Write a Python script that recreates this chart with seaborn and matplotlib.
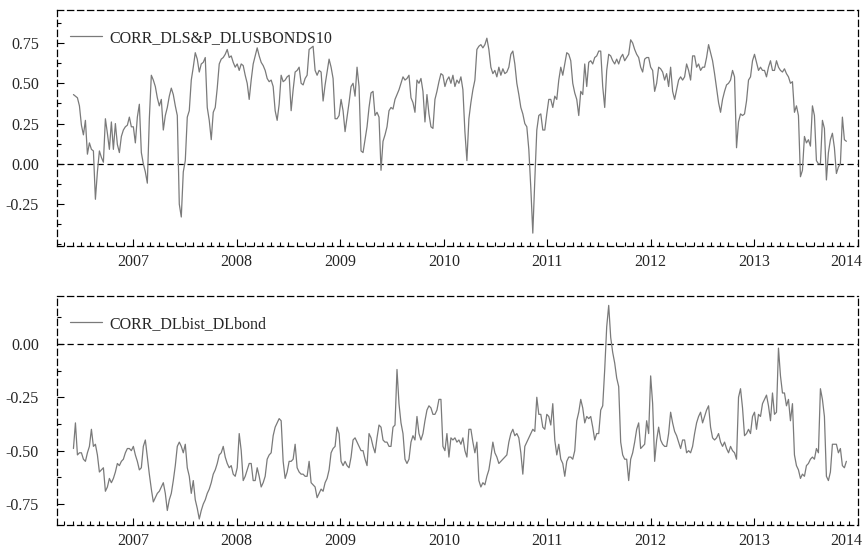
import matplotlib
matplotlib.use("Agg")
import matplotlib.pyplot as plt
import matplotlib.dates as mdates
import matplotlib.transforms as mtransforms
from matplotlib.ticker import MultipleLocator, FormatStrFormatter
import pandas as pd
import seaborn as sns

series_labels = ["CORR_DLS&P_DLUSBONDS10", "CORR_DLbist_DLbond"]
start_date = "2006-06-04"
end_date = "2013-11-22"
year_labels = ["2007", "2008", "2009", "2010", "2011", "2012", "2013", "2014"]

corr_sp_us10 = [
    0.43, 0.42, 0.41, 0.36, 0.24, 0.18, 0.27, 0.06, 0.13, 0.09,
    0.08, -0.22, -0.05, 0.08, 0.04, 0.01, 0.28, 0.19, 0.09, 0.26,
    0.09, 0.25, 0.12, 0.07, 0.17, 0.21, 0.23, 0.24, 0.29, 0.23,
    0.23, 0.13, 0.29, 0.37, 0.07, 0.00, -0.05, -0.12, 0.28, 0.55,
    0.52, 0.48, 0.41, 0.36, 0.40, 0.21, 0.30, 0.35, 0.42, 0.47,
    0.43, 0.36, 0.30, -0.25, -0.33, -0.05, 0.02, 0.29, 0.33, 0.52,
    0.60, 0.69, 0.65, 0.57, 0.62, 0.63, 0.66, 0.35, 0.27, 0.15,
    0.32, 0.35, 0.47, 0.62, 0.65, 0.66, 0.68, 0.71, 0.66, 0.67,
    0.63, 0.60, 0.62, 0.58, 0.62, 0.61, 0.55, 0.50, 0.40, 0.52,
    0.62, 0.67, 0.72, 0.67, 0.63, 0.61, 0.58, 0.53, 0.51, 0.52,
    0.48, 0.33, 0.27, 0.37, 0.55, 0.51, 0.52, 0.54, 0.55, 0.33,
    0.46, 0.57, 0.58, 0.60,
    0.50, 0.49, 0.53, 0.55, 0.71, 0.72, 0.73, 0.58, 0.55, 0.58,
    0.57, 0.39, 0.49, 0.57, 0.65, 0.60, 0.53, 0.28, 0.28, 0.30,
    0.40, 0.33, 0.20, 0.29, 0.38, 0.48, 0.50, 0.42, 0.60, 0.48,
    0.08, 0.07, 0.15, 0.23, 0.35, 0.44, 0.45, 0.30, 0.32, 0.29,
    -0.04, 0.14, 0.18, 0.23, 0.33, 0.35, 0.34, 0.40, 0.43, 0.46,
    0.50, 0.54, 0.52, 0.53, 0.55, 0.41, 0.38, 0.32, 0.52, 0.50,
    0.53, 0.45, 0.26, 0.43, 0.31, 0.23, 0.22, 0.40, 0.45, 0.51,
    0.56, 0.55, 0.48, 0.52, 0.54, 0.50, 0.55, 0.48, 0.52, 0.50,
    0.54, 0.46, 0.20, 0.02, 0.28, 0.38, 0.46, 0.52, 0.71, 0.73,
    0.74, 0.72, 0.74, 0.78, 0.71, 0.60, 0.56, 0.58, 0.54, 0.60,
    0.55, 0.59, 0.56, 0.57, 0.60, 0.68, 0.70, 0.62, 0.50, 0.43,
    0.35, 0.31, 0.25, 0.23, 0.09, -0.15, -0.43, -0.10, 0.21, 0.30,
    0.31, 0.21, 0.21, 0.31, 0.40, 0.40, 0.35, 0.42, 0.40, 0.52,
    0.60, 0.55, 0.62, 0.69, 0.68, 0.64, 0.50, 0.44, 0.40, 0.30,
    0.45, 0.43, 0.62, 0.48, 0.63, 0.64, 0.62, 0.66, 0.67, 0.70,
    0.70, 0.48, 0.35, 0.58, 0.68, 0.67, 0.64, 0.62, 0.65, 0.62,
    0.66, 0.68, 0.64, 0.66, 0.68, 0.77, 0.75, 0.71, 0.68, 0.66,
    0.60, 0.57, 0.65, 0.66, 0.66, 0.60, 0.58, 0.45, 0.50, 0.60,
    0.59, 0.57, 0.52, 0.56, 0.48, 0.60, 0.45, 0.40, 0.46, 0.52,
    0.54, 0.52, 0.54, 0.62, 0.58, 0.52, 0.67, 0.67, 0.60, 0.62,
    0.58, 0.60, 0.60, 0.66, 0.74, 0.69, 0.64, 0.56, 0.47, 0.38,
    0.32, 0.40, 0.45, 0.49, 0.50, 0.52, 0.58, 0.54, 0.10, 0.26,
    0.31, 0.30, 0.31, 0.39, 0.52, 0.54, 0.64, 0.68, 0.63, 0.58,
    0.60, 0.58, 0.58, 0.54, 0.60, 0.64, 0.58, 0.58, 0.64, 0.60,
    0.58, 0.57, 0.59, 0.56, 0.54, 0.50, 0.51, 0.32, 0.36, 0.30,
    -0.08, -0.04, 0.17, 0.13, 0.15, 0.11, 0.36, 0.30, 0.02, 0.00,
    0.00, 0.27, 0.22, -0.10, 0.07, 0.15, 0.19, 0.10, -0.06, -0.02,
    0.00, 0.29, 0.15, 0.14,
]

corr_bist_bond = [
    -0.49, -0.37, -0.52, -0.51, -0.51, -0.54, -0.55, -0.51, -0.48, -0.40,
    -0.48, -0.47, -0.52, -0.60, -0.59, -0.58, -0.69, -0.67, -0.63, -0.65,
    -0.63, -0.60, -0.56, -0.57, -0.55, -0.54, -0.51, -0.49, -0.49, -0.50,
    -0.48, -0.52, -0.55, -0.59, -0.58, -0.48, -0.45, -0.53, -0.61, -0.68,
    -0.74, -0.72, -0.70, -0.69, -0.67, -0.65, -0.70, -0.78, -0.73, -0.70,
    -0.64, -0.57, -0.48, -0.46, -0.48, -0.51, -0.47, -0.58, -0.62, -0.70,
    -0.64, -0.73, -0.77, -0.82, -0.78, -0.75, -0.73, -0.70, -0.68, -0.65,
    -0.61, -0.59, -0.56, -0.52, -0.51, -0.48, -0.53, -0.56, -0.58, -0.57,
    -0.61, -0.62, -0.58, -0.42, -0.50, -0.64, -0.62, -0.59, -0.56, -0.56,
    -0.64, -0.64, -0.58, -0.62, -0.67, -0.65, -0.62, -0.54, -0.52, -0.51,
    -0.43, -0.39, -0.37, -0.35, -0.36, -0.55, -0.63, -0.60, -0.55, -0.55,
    -0.54, -0.47, -0.58, -0.60,
    -0.61, -0.61, -0.62, -0.62, -0.55, -0.65, -0.66, -0.67, -0.72, -0.70,
    -0.68, -0.69, -0.65, -0.63, -0.59, -0.51, -0.49, -0.48, -0.39, -0.42,
    -0.55, -0.57, -0.55, -0.57, -0.58, -0.53, -0.45, -0.44, -0.46, -0.48,
    -0.50, -0.50, -0.54, -0.57, -0.42, -0.44, -0.48, -0.51, -0.44, -0.38,
    -0.39, -0.45, -0.46, -0.46, -0.48, -0.48, -0.39, -0.38, -0.12, -0.28,
    -0.37, -0.42, -0.54, -0.56, -0.54, -0.46, -0.43, -0.45, -0.34, -0.42,
    -0.45, -0.42, -0.36, -0.31, -0.29, -0.30, -0.33, -0.33, -0.31, -0.26,
    -0.26, -0.48, -0.50, -0.42, -0.53, -0.44, -0.45, -0.44, -0.46, -0.45,
    -0.47, -0.44, -0.50, -0.53, -0.40, -0.40, -0.46, -0.51, -0.46, -0.64,
    -0.67, -0.65, -0.66, -0.62, -0.59, -0.53, -0.46, -0.51, -0.53, -0.56,
    -0.55, -0.54, -0.53, -0.52, -0.46, -0.42, -0.40, -0.43, -0.42, -0.44,
    -0.51, -0.61, -0.48, -0.46, -0.44, -0.42, -0.40, -0.41, -0.25, -0.33,
    -0.33, -0.39, -0.40, -0.33, -0.34, -0.38, -0.28, -0.45, -0.52, -0.47,
    -0.54, -0.56, -0.62, -0.55, -0.53, -0.53, -0.54, -0.50, -0.36, -0.32,
    -0.26, -0.30, -0.37, -0.34, -0.35, -0.34, -0.39, -0.45, -0.42, -0.42,
    -0.31, -0.29, -0.12, 0.08, 0.18, 0.03, -0.04, -0.09, -0.16, -0.20,
    -0.46, -0.52, -0.54, -0.54, -0.64, -0.54, -0.51, -0.46, -0.40, -0.37,
    -0.49, -0.48, -0.47, -0.36, -0.42, -0.15, -0.28, -0.55, -0.45, -0.39,
    -0.45, -0.47, -0.48, -0.48, -0.42, -0.32, -0.37, -0.41, -0.43, -0.46,
    -0.49, -0.45, -0.45, -0.51, -0.50, -0.51, -0.48, -0.42, -0.37, -0.34,
    -0.32, -0.37, -0.34, -0.31, -0.29, -0.39, -0.44, -0.45, -0.44, -0.42,
    -0.46, -0.48, -0.46, -0.49, -0.51, -0.48, -0.50, -0.51, -0.54, -0.25,
    -0.21, -0.30, -0.43, -0.42, -0.40, -0.42, -0.34, -0.32, -0.40, -0.33,
    -0.34, -0.28, -0.26, -0.24, -0.29, -0.36, -0.23, -0.33, -0.32, -0.02,
    -0.15, -0.23, -0.23, -0.29, -0.26, -0.36, -0.28, -0.52, -0.57, -0.59,
    -0.63, -0.61, -0.62, -0.57, -0.56, -0.54, -0.53, -0.54, -0.49, -0.51,
    -0.21, -0.26, -0.34, -0.62, -0.64, -0.60, -0.47, -0.47, -0.47, -0.51,
    -0.49, -0.57, -0.58, -0.55,
]

top_yticks = [-0.25, 0.00, 0.25, 0.50, 0.75]
bottom_yticks = [-0.75, -0.50, -0.25, 0.00]

sns.set_theme(style="white")
plt.rcParams["font.family"] = ["Liberation Serif", "DejaVu Serif"]
plt.rcParams["axes.unicode_minus"] = False

W, H = 865, 551
fig = plt.figure(figsize=(W / 100, H / 100), dpi=100)
ax1 = fig.add_axes([57 / W, 1 - 246 / H, (858 - 57) / W, (246 - 10) / H])
ax2 = fig.add_axes([57 / W, 1 - 525 / H, (858 - 57) / W, (525 - 296) / H])

dash = (0, (5, 3))
line_color = "#7a7a7a"
fs = 11.5
year_ticks = pd.to_datetime([f"{y}-01-01" for y in year_labels])

panels = [
    (ax1, corr_sp_us10, series_labels[0], top_yticks, (-0.51, 0.955)),
    (ax2, corr_bist_bond, series_labels[1], bottom_yticks, (-0.848, 0.224)),
]

for ax, vals, label, yticks, ylim in panels:
    dates = pd.date_range(start_date, end_date, periods=len(vals))
    df = pd.DataFrame({"date": dates, "value": vals})
    sns.lineplot(data=df, x="date", y="value", ax=ax, color=line_color,
                 linewidth=0.9, label=label)
    ax.axhline(0, color="black", lw=0.9, ls=dash, zorder=1)
    ax.set_xlim(pd.Timestamp("2006-04-07"), pd.Timestamp("2014-01-02"))
    ax.set_ylim(*ylim)
    ax.set_yticks(yticks)
    ax.yaxis.set_minor_locator(MultipleLocator(0.125))
    ax.yaxis.set_major_formatter(FormatStrFormatter("%.2f"))
    ax.set_xticks(year_ticks)
    ax.set_xticklabels(year_labels)
    ax.xaxis.set_minor_locator(mdates.MonthLocator())
    ax.set_xlabel("")
    ax.set_ylabel("")
    for sp in ax.spines.values():
        sp.set_linestyle(dash)
        sp.set_color("black")
        sp.set_linewidth(0.9)
    ax.tick_params(which="both", direction="in", top=False, right=False,
                   bottom=True, left=True, color="black", width=0.8)
    ax.tick_params(which="major", length=5, labelsize=fs)
    ax.tick_params(which="minor", length=3)
    ax.tick_params(axis="y", which="major", pad=13)
    ax.tick_params(axis="x", which="major", pad=6)
    ax.grid(False)
    ax.legend(loc="upper left", frameon=False, fontsize=fs,
              handlelength=2.0, handletextpad=0.5,
              bbox_to_anchor=(0.0, 0.97), borderaxespad=0.4)

shift = mtransforms.ScaledTranslation(-11 / 100, 0, fig.dpi_scale_trans)
for ax in (ax1, ax2):
    last = ax.get_xticklabels()[-1]
    last.set_transform(last.get_transform() + shift)

fig.savefig("out.png", dpi=100)
